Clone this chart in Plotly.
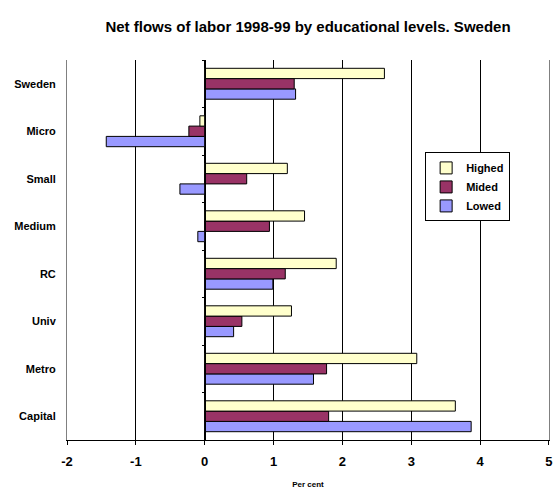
import plotly.graph_objects as go

# Data (per cent)
categories = ["Capital", "Metro", "Univ", "RC", "Medium", "Small", "Micro", "Sweden"]
highed = [3.64, 3.08, 1.26, 1.91, 1.45, 1.20, -0.07, 2.61]
mided = [1.80, 1.77, 0.54, 1.17, 0.94, 0.61, -0.23, 1.30]
lowed = [3.87, 1.58, 0.42, 0.99, -0.10, -0.36, -1.43, 1.32]
x_ticks = [-2, -1, 0, 1, 2, 3, 4, 5]
x_ticktext = ["-2", "-1", "0", "1", "2", "3", "4", "5"]

font = "Liberation Sans, Arial, sans-serif"

fig = go.Figure()
# first trace sits lowest within each group
fig.add_trace(go.Bar(y=categories, x=lowed, name="Lowed", orientation="h",
                     marker=dict(color="#9999FF", line=dict(color="black", width=1))))
fig.add_trace(go.Bar(y=categories, x=mided, name="Mided", orientation="h",
                     marker=dict(color="#993366", line=dict(color="black", width=1))))
fig.add_trace(go.Bar(y=categories, x=highed, name="Highed", orientation="h",
                     marker=dict(color="#FFFFCC", line=dict(color="black", width=1))))

fig.update_layout(
    width=554, height=490,
    margin=dict(l=67, r=5, t=60, b=50, autoexpand=False),
    paper_bgcolor="white", plot_bgcolor="white",
    barmode="group", bargap=0.35, bargroupgap=0,
    title=dict(text="Net flows of labor 1998-99 by educational levels. Sweden",
               x=0.5, xref="paper", xanchor="center", y=1 - 27 / 490, yanchor="middle",
               font=dict(family=font, size=15, color="black", weight="bold")),
    font=dict(family=font, color="black"),
    legend=dict(x=0.743, y=0.666, xanchor="left", yanchor="middle",
                traceorder="reversed", bgcolor="white",
                bordercolor="black", borderwidth=1,
                font=dict(family=font, size=11, color="black", weight="bold"),
                itemwidth=30, tracegroupgap=0),
    showlegend=True,
)

fig.update_xaxes(
    range=[-2, 5.0005], tickvals=x_ticks, ticktext=x_ticktext,
    showgrid=True, gridcolor="black", gridwidth=1,
    zeroline=True, zerolinecolor="black", zerolinewidth=1,
    showline=True, linecolor="black", linewidth=1, mirror=False,
    ticks="outside", ticklen=4, tickcolor="black", ticklabelstandoff=5,
    ticklabeloverflow="allow",
    tickfont=dict(family=font, size=13, color="black", weight="bold"),
    title=dict(text="Per cent", font=dict(family=font, size=8, color="black", weight="bold"),
               standoff=13),
)
fig.update_yaxes(
    showgrid=False, zeroline=False,
    showline=True, linecolor="#808080", linewidth=1, mirror=True,
    ticks="", ticklabelstandoff=8,
    tickfont=dict(family=font, size=11, color="black", weight="bold"),
)

# category axis crossing at x = 0, with ticks at the group boundaries
fig.update_layout(yaxis2=dict(
    matches="y", overlaying="y", anchor="free", position=2 / 7.0005, side="left",
    showticklabels=False, showgrid=False, zeroline=False,
    showline=True, linecolor="black", linewidth=1,
    ticks="outside", ticklen=3, tickcolor="black", tickson="boundaries",
))
fig.add_trace(go.Bar(y=categories, x=[None] * len(categories), yaxis="y2",
                     showlegend=False, hoverinfo="skip"))

# drop the default body margin so the figure fills the window exactly
fig.write_html("out.html", config={"displayModeBar": False},
               post_script="document.body.style.margin = '0';")
